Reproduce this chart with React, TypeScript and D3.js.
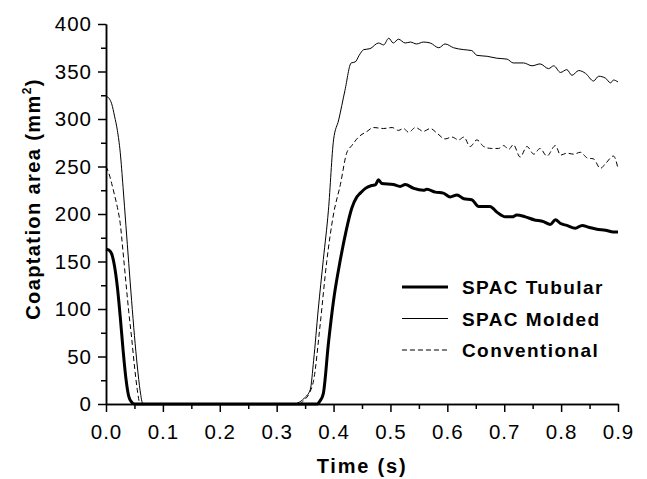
import React, { useEffect, useRef } from 'react';
import * as d3 from 'd3';

// [time (s), coaptation area (mm2)]
const tubular: [number, number][] = [
  [0, 163], [0.005, 162], [0.01, 158], [0.015, 145], [0.02, 123], [0.025, 92], [0.03, 57],
  [0.035, 27], [0.04, 8], [0.045, 2], [0.05, 0], [0.371, 0], [0.376, 3], [0.382, 11],
  [0.391, 64], [0.4, 109], [0.412, 152], [0.422, 182], [0.432, 206], [0.441, 218],
  [0.447, 222], [0.456, 227], [0.467, 230], [0.474, 231], [0.479, 236], [0.485, 232],
  [0.505, 231], [0.517, 229], [0.526, 231], [0.541, 227], [0.558, 225], [0.564, 226],
  [0.579, 223], [0.593, 222], [0.605, 218], [0.617, 220], [0.629, 216], [0.643, 215],
  [0.655, 208], [0.667, 208], [0.675, 208], [0.687, 202], [0.702, 197], [0.714, 197],
  [0.722, 199], [0.737, 197], [0.752, 194], [0.769, 192], [0.781, 189], [0.79, 194],
  [0.799, 190], [0.81, 188], [0.825, 185], [0.837, 188], [0.848, 186], [0.863, 184],
  [0.878, 183], [0.892, 181], [0.9, 181],
];

const molded: [number, number][] = [
  [0, 324], [0.005, 322], [0.01, 316], [0.015, 303], [0.02, 288], [0.025, 265], [0.03, 228],
  [0.035, 188], [0.04, 148], [0.045, 109], [0.05, 72], [0.055, 40], [0.06, 14], [0.065, 0],
  [0.33, 0], [0.34, 2], [0.35, 7], [0.359, 15], [0.365, 46], [0.373, 99], [0.382, 152],
  [0.391, 204], [0.4, 278], [0.409, 299], [0.42, 330], [0.431, 359], [0.438, 360],
  [0.445, 367], [0.453, 373], [0.464, 374], [0.479, 380], [0.488, 378], [0.497, 385],
  [0.505, 380], [0.514, 384], [0.526, 380], [0.535, 381], [0.546, 379], [0.558, 381],
  [0.57, 380], [0.585, 375], [0.596, 379], [0.611, 375], [0.629, 373], [0.643, 372],
  [0.652, 367], [0.67, 366], [0.687, 364], [0.705, 363], [0.716, 359], [0.734, 359],
  [0.749, 356], [0.763, 358], [0.778, 353], [0.787, 356], [0.799, 349], [0.81, 352],
  [0.819, 346], [0.831, 351], [0.843, 348], [0.857, 340], [0.866, 345], [0.878, 343],
  [0.887, 338], [0.892, 341], [0.9, 339],
];

const conventional: [number, number][] = [
  [0, 250], [0.005, 243], [0.01, 232], [0.015, 220], [0.02, 207], [0.025, 190], [0.03, 160],
  [0.035, 128], [0.04, 97], [0.045, 70], [0.05, 40], [0.055, 15], [0.06, 0], [0.338, 0],
  [0.35, 5], [0.358, 12], [0.365, 25], [0.376, 81], [0.388, 150], [0.4, 200], [0.412, 231],
  [0.423, 264], [0.432, 272], [0.444, 281], [0.459, 287], [0.47, 291], [0.488, 290],
  [0.503, 291], [0.514, 288], [0.523, 290], [0.532, 286], [0.544, 291], [0.558, 287],
  [0.57, 290], [0.582, 285], [0.596, 279], [0.608, 281], [0.62, 278], [0.629, 281],
  [0.64, 271], [0.652, 278], [0.664, 271], [0.678, 269], [0.69, 269], [0.699, 272],
  [0.708, 268], [0.716, 273], [0.728, 260], [0.74, 271], [0.752, 263], [0.763, 269],
  [0.775, 261], [0.79, 272], [0.799, 262], [0.81, 264], [0.822, 263], [0.834, 265],
  [0.846, 259], [0.857, 258], [0.869, 248], [0.878, 253], [0.892, 261], [0.9, 248],
];

const xMajor = [0, 0.1, 0.2, 0.3, 0.4, 0.5, 0.6, 0.7, 0.8, 0.9];
const xMinor = [0.05, 0.15, 0.25, 0.35, 0.45, 0.55, 0.65, 0.75, 0.85];
const yMajor = [0, 50, 100, 150, 200, 250, 300, 350, 400];
const yMinor = [25, 75, 125, 175, 225, 275, 325, 375];

const legendItems = [
  { label: 'SPAC Tubular', width: 3, dash: null },
  { label: 'SPAC Molded', width: 1, dash: null },
  { label: 'Conventional', width: 1, dash: '5,3' },
];

const W = 647;
const H = 479;
const margin = { top: 24, right: 29, bottom: 75, left: 106 };
const FONT = '"Liberation Sans", Arial, sans-serif';

export default function App() {
  const ref = useRef<SVGSVGElement>(null);

  useEffect(() => {
    const svg = d3.select(ref.current);
    svg.selectAll('*').remove();
    const w = W - margin.left - margin.right;
    const h = H - margin.top - margin.bottom;

    const x = d3.scaleLinear().domain([0, 0.9]).range([0, w]);
    const y = d3.scaleLinear().domain([0, 400]).range([h, 0]);

    const g = svg.append('g').attr('transform', `translate(${margin.left},${margin.top})`);

    const line = d3.line<[number, number]>()
      .x(d => x(d[0]))
      .y(d => y(d[1]))
      .curve(d3.curveMonotoneX);

    const series = [
      { data: conventional, width: 1, dash: '5,3' },
      { data: molded, width: 1, dash: null },
      { data: tubular, width: 3, dash: null },
    ];
    series.forEach(s => {
      g.append('path')
        .datum(s.data)
        .attr('d', line)
        .attr('fill', 'none')
        .attr('stroke', '#000')
        .attr('stroke-width', s.width)
        .attr('stroke-dasharray', s.dash)
        .attr('stroke-linejoin', 'round');
    });

    // axes
    const styleAxis = (sel: any) => {
      sel.select('.domain').attr('stroke-width', 1.5);
      sel.selectAll('line').attr('stroke-width', 1.5);
      sel.selectAll('text')
        .attr('font-family', FONT)
        .attr('font-size', 20.5)
        .attr('letter-spacing', 1)
        .attr('fill', '#000');
    };

    g.append('g')
      .attr('transform', `translate(0,${h})`)
      .call(d3.axisBottom(x).tickValues(xMinor).tickSize(5).tickSizeOuter(0).tickFormat(() => ''))
      .call(styleAxis);
    g.append('g')
      .attr('transform', `translate(0,${h})`)
      .call(d3.axisBottom(x).tickValues(xMajor).tickSize(8).tickSizeOuter(0).tickPadding(12).tickFormat(d3.format('.1f')))
      .call(styleAxis);
    g.append('g')
      .call(d3.axisLeft(y).tickValues(yMinor).tickSize(5).tickSizeOuter(0).tickFormat(() => ''))
      .call(styleAxis);
    g.append('g')
      .call(d3.axisLeft(y).tickValues(yMajor).tickSize(8).tickSizeOuter(0).tickPadding(6).tickFormat(d3.format('d')))
      .call(styleAxis);

    // axis titles
    svg.append('text')
      .attr('x', 362)
      .attr('y', 473)
      .attr('text-anchor', 'middle')
      .attr('font-family', FONT)
      .attr('font-weight', 'bold')
      .attr('font-size', 20)
      .attr('letter-spacing', 1.8)
      .text('Time (s)');

    const yt = svg.append('text')
      .attr('transform', 'translate(40,199) rotate(-90)')
      .attr('text-anchor', 'middle')
      .attr('font-family', FONT)
      .attr('font-weight', 'bold')
      .attr('font-size', 20)
      .attr('letter-spacing', 1.4);
    yt.append('tspan').text('Coaptation area (mm');
    yt.append('tspan').attr('font-size', 12).attr('dy', -9).text('2');
    yt.append('tspan').attr('dy', 9).text(')');

    // legend
    const lg = svg.append('g');
    legendItems.forEach((item, i) => {
      const ly = 287 + i * 31.5;
      lg.append('line')
        .attr('x1', 402).attr('x2', 448)
        .attr('y1', ly).attr('y2', ly)
        .attr('stroke', '#000')
        .attr('stroke-width', item.width)
        .attr('stroke-dasharray', item.dash);
      lg.append('text')
        .attr('x', 462)
        .attr('y', ly + 7)
        .attr('font-family', FONT)
        .attr('font-weight', 'bold')
        .attr('font-size', 19)
        .attr('letter-spacing', 1.4)
        .text(item.label);
    });
  }, []);

  return (
    <svg
      ref={ref}
      width={W}
      height={H}
      style={{ position: 'absolute', left: 0, top: 0, background: '#fff' }}
    />
  );
}
